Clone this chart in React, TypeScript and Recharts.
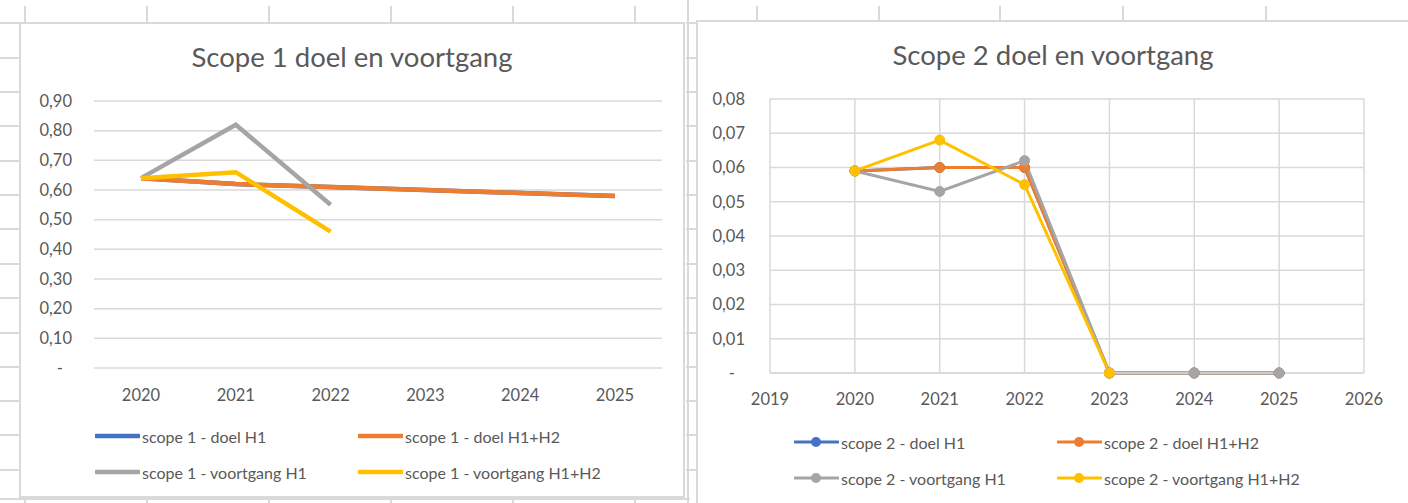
import React from "react";
import {
  LineChart,
  Line,
  XAxis,
  YAxis,
  CartesianGrid,
  Legend,
} from "recharts";

// Scope 1
const YEARS_1 = ["2020", "2021", "2022", "2023", "2024", "2025"];
const S1_DOEL_H1 = [0.64, 0.62, 0.61, 0.6, 0.59, 0.58];
const S1_DOEL_H1H2 = [0.64, 0.62, 0.61, 0.6, 0.59, 0.58];
const S1_VOORTGANG_H1 = [0.64, 0.82, 0.55, null, null, null];
const S1_VOORTGANG_H1H2 = [0.64, 0.66, 0.46, null, null, null];
const S1_TICKS = [0, 0.1, 0.2, 0.3, 0.4, 0.5, 0.6, 0.7, 0.8, 0.9];

// Scope 2
const YEARS_2 = [2020, 2021, 2022, 2023, 2024, 2025];
const S2_DOEL_H1 = [0.059, 0.06, 0.06, 0, 0, 0];
const S2_DOEL_H1H2 = [0.059, 0.06, 0.06, 0, 0, 0];
const S2_VOORTGANG_H1 = [0.059, 0.053, 0.062, 0, 0, 0];
const S2_VOORTGANG_H1H2 = [0.059, 0.068, 0.055, 0, null, null];
const S2_X_TICKS = [2019, 2020, 2021, 2022, 2023, 2024, 2025, 2026];
const S2_Y_TICKS = [0, 0.01, 0.02, 0.03, 0.04, 0.05, 0.06, 0.07, 0.08];

const BLUE = "#4472C4";
const ORANGE = "#ED7D31";
const GRAY = "#A5A5A5";
const YELLOW = "#FFC000";
const TEXT = "#595959";
const GRID = "#d9d9d9";
const FONT = "Lato, 'Open Sans', sans-serif";

const data1 = YEARS_1.map((y, i) => ({
  year: y,
  doelH1: S1_DOEL_H1[i],
  doelH1H2: S1_DOEL_H1H2[i],
  voortgangH1: S1_VOORTGANG_H1[i],
  voortgangH1H2: S1_VOORTGANG_H1H2[i],
}));

const data2 = YEARS_2.map((y, i) => ({
  year: y,
  doelH1: S2_DOEL_H1[i],
  doelH1H2: S2_DOEL_H1H2[i],
  voortgangH1: S2_VOORTGANG_H1[i],
  voortgangH1H2: S2_VOORTGANG_H1H2[i],
}));

const fmt = (v: number, digits: number) => (v === 0 ? "-" : v.toFixed(digits).replace(".", ","));

/* eslint-disable @typescript-eslint/no-explicit-any */
const makeYTick = (digits: number, dashShift: number) => (props: any) => {
  const { x, y, payload } = props;
  const isZero = payload.value === 0;
  return (
    <text
      x={isZero ? x - dashShift : x}
      y={y}
      dy="0.35em"
      textAnchor="end"
      fill={TEXT}
      fontSize={16.5}
      fontFamily={FONT}
    >
      {fmt(payload.value, digits)}
    </text>
  );
};

const makeLegend = (withDot: boolean) => (props: any) => {
  const items = props.payload || [];
  return (
    <div
      style={{
        display: "grid",
        gridTemplateColumns: "263px 263px",
        rowGap: 0,
        fontFamily: FONT,
        fontSize: 16,
        color: TEXT,
      }}
    >
      {items.map((it: any) => (
        <div key={it.value} style={{ display: "flex", alignItems: "center", height: 36 }}>
          <svg width={45} height={12} style={{ marginRight: 2 }}>
            <line x1={1} y1={6} x2={44} y2={6} stroke={it.color} strokeWidth={withDot ? 3 : 4.5} strokeLinecap="round" />
            {withDot && <circle cx={22} cy={6} r={5} fill={it.color} />}
          </svg>
          <span>{it.value}</span>
        </div>
      ))}
    </div>
  );
};
/* eslint-enable @typescript-eslint/no-explicit-any */

const titleStyle: React.CSSProperties = {
  position: "absolute",
  left: 0,
  right: 0,
  textAlign: "center",
  fontFamily: FONT,
  fontSize: 27.5,
  color: TEXT,
  pointerEvents: "none",
};

const line = (x: number, y: number, w: number, h: number, key: string) => (
  <div key={key} style={{ position: "absolute", left: x, top: y, width: w, height: h, background: GRID }} />
);

function SheetLines() {
  const rows = [22, 57, 91, 125, 160, 194, 228, 263, 297, 332, 366, 400, 434, 469];
  const colsLeft = [24, 146, 268, 390, 512, 634];
  const colsRight = [756, 878, 999, 1122, 1265];
  const out: React.ReactNode[] = [];
  rows.forEach((r, i) => {
    out.push(line(0, r, 19, 2, "l" + i));
    out.push(line(686, r, 10, 2, "m" + i));
  });
  colsLeft.forEach((c, i) => {
    out.push(line(c, 6, 2, 16, "t" + i));
    out.push(line(c, 498, 2, 5, "b" + i));
  });
  colsRight.forEach((c, i) => out.push(line(c, 6, 2, 14, "r" + i)));
  out.push(line(687, 0, 2, 503, "mid"));
  out.push(line(0, 498, 690, 2, "bottom"));
  return <>{out}</>;
}

function Scope1Chart() {
  return (
    <div
      style={{
        position: "absolute",
        left: 19,
        top: 22,
        width: 666,
        height: 476,
        background: "#fff",
        border: `2px solid ${GRID}`,
        boxSizing: "border-box",
      }}
    >
      <div style={{ ...titleStyle, top: 16 }}>Scope 1 doel en voortgang</div>
      <div style={{ position: "absolute", left: -2, top: -2 }}>
        <LineChart width={666} height={476} data={data1} margin={{ top: 79, right: 23, left: 0, bottom: 100 }}>
          <CartesianGrid vertical={false} stroke={GRID} strokeWidth={1.5} />
          <XAxis
            dataKey="year"
            axisLine={false}
            tickLine={false}
            height={30}
            tickMargin={15}
            padding={{ left: 47, right: 47 }}
            tick={{ fill: TEXT, fontSize: 16.5, fontFamily: FONT }}
          />
          <YAxis
            width={75}
            domain={[0, 0.9]}
            ticks={S1_TICKS}
            axisLine={false}
            tickLine={false}
            tickMargin={16}
            tick={makeYTick(2, 9)}
            interval={0}
          />
          <Legend
            layout="horizontal"
            verticalAlign="middle"
            align="center"
            wrapperStyle={{ left: 76, top: 396, width: 560 }}
            content={makeLegend(false)}
          />
          <Line name="scope 1 - doel H1" dataKey="doelH1" stroke={BLUE} strokeWidth={4.5} dot={false} isAnimationActive={false} />
          <Line name="scope 1 - doel H1+H2" dataKey="doelH1H2" stroke={ORANGE} strokeWidth={4.5} dot={false} isAnimationActive={false} />
          <Line name="scope 1 - voortgang H1" dataKey="voortgangH1" stroke={GRAY} strokeWidth={4.5} dot={false} isAnimationActive={false} />
          <Line name="scope 1 - voortgang H1+H2" dataKey="voortgangH1H2" stroke={YELLOW} strokeWidth={4.5} dot={false} isAnimationActive={false} />
        </LineChart>
      </div>
    </div>
  );
}

function Scope2Chart() {
  const dot = (c: string) => ({ r: 5, fill: c, stroke: c, strokeWidth: 1 });
  return (
    <div
      style={{
        position: "absolute",
        left: 696,
        top: 20,
        width: 712,
        height: 483,
        background: "#fff",
        borderLeft: `2px solid ${GRID}`,
        borderTop: `2px solid ${GRID}`,
        boxSizing: "border-box",
      }}
    >
      <div style={{ ...titleStyle, top: 16 }}>Scope 2 doel en voortgang</div>
      <div style={{ position: "absolute", left: -2, top: -2 }}>
        <LineChart width={712} height={483} data={data2} margin={{ top: 79, right: 44, left: 0, bottom: 100 }}>
          <CartesianGrid stroke={GRID} strokeWidth={1.5} />
          <XAxis
            dataKey="year"
            type="number"
            domain={[2019, 2026]}
            ticks={S2_X_TICKS}
            interval={0}
            axisLine={{ stroke: GRID, strokeWidth: 1.5 }}
            tickLine={false}
            height={30}
            tickMargin={14}
            tick={{ fill: TEXT, fontSize: 16.5, fontFamily: FONT }}
          />
          <YAxis
            width={74}
            domain={[0, 0.08]}
            ticks={S2_Y_TICKS}
            interval={0}
            axisLine={false}
            tickLine={false}
            tickMargin={19}
            tick={makeYTick(2, 10)}
          />
          <Legend
            layout="horizontal"
            verticalAlign="middle"
            align="center"
            wrapperStyle={{ left: 98, top: 404, width: 560 }}
            content={makeLegend(true)}
          />
          <Line name="scope 2 - doel H1" dataKey="doelH1" stroke={BLUE} strokeWidth={3} dot={dot(BLUE)} isAnimationActive={false} />
          <Line name="scope 2 - doel H1+H2" dataKey="doelH1H2" stroke={ORANGE} strokeWidth={3} dot={dot(ORANGE)} isAnimationActive={false} />
          <Line name="scope 2 - voortgang H1" dataKey="voortgangH1" stroke={GRAY} strokeWidth={3} dot={dot(GRAY)} isAnimationActive={false} />
          <Line name="scope 2 - voortgang H1+H2" dataKey="voortgangH1H2" stroke={YELLOW} strokeWidth={3} dot={dot(YELLOW)} isAnimationActive={false} />
        </LineChart>
      </div>
    </div>
  );
}

export default function App() {
  return (
    <div
      style={{
        position: "absolute",
        left: 0,
        top: 0,
        width: 1408,
        height: 503,
        background: "#fff",
        overflow: "hidden",
      }}
    >
      <SheetLines />
      <Scope1Chart />
      <Scope2Chart />
    </div>
  );
}
